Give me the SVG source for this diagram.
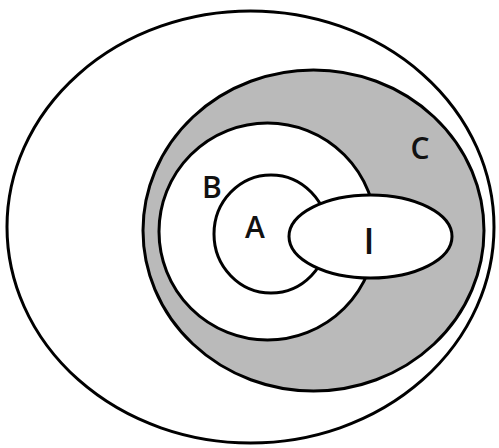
<svg xmlns="http://www.w3.org/2000/svg" width="499" height="448" viewBox="0 0 499 448">
<style>
.s{stroke:#000;stroke-width:3}
.w{fill:#fff}
.g{fill:#bababa}
.t{font-family:"Open Sans","Noto Sans",sans-serif;font-weight:600;font-size:30px;fill:#111;text-anchor:middle}
</style>
<rect width="499" height="448" fill="#fff"/>
<g id="outer"><ellipse class="s w" cx="250.5" cy="227" rx="243.5" ry="216"/></g>
<g id="C"><ellipse class="s g" cx="313.5" cy="230.5" rx="170.5" ry="160.5"/><text class="t" x="420" y="159">C</text></g>
<g id="B"><ellipse class="s w" cx="267.5" cy="231.5" rx="108.5" ry="108.5"/><text class="t" x="212" y="198">B</text></g>
<g id="A"><ellipse class="s w" cx="271" cy="234" rx="57" ry="59"/><text class="t" x="255" y="238">A</text></g>
<g id="I"><ellipse class="s w" cx="370.5" cy="236.5" rx="81.5" ry="41.5"/><text class="t" x="369" y="254" style="font-size:36px">I</text></g>
<g id="connectors"/>
</svg>
